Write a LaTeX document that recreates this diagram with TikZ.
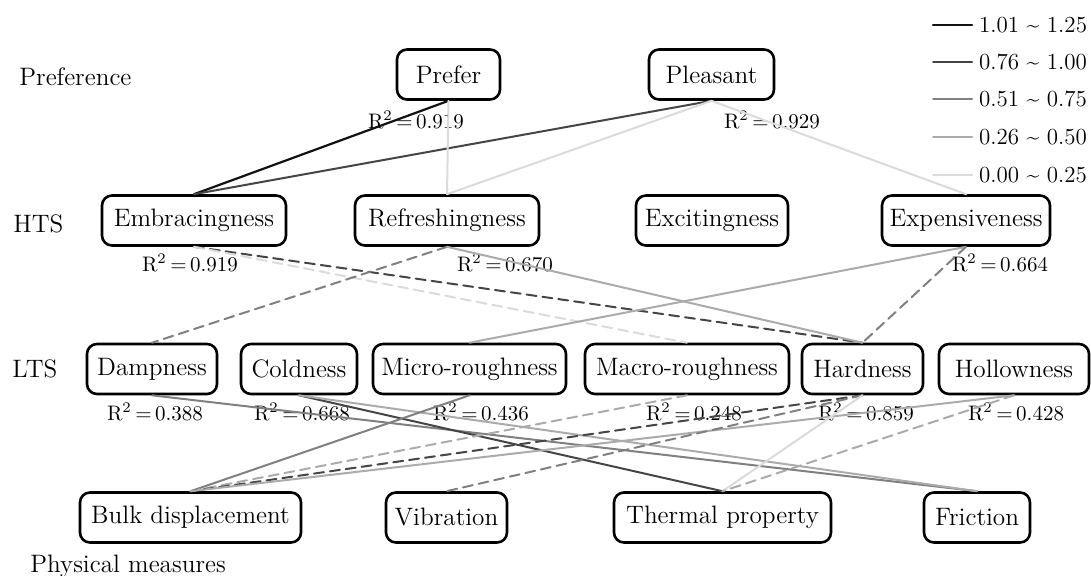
\documentclass[tikz,border=0pt]{standalone}
\usepackage{fontspec}
\begin{document}
\begin{tikzpicture}[x=0.5pt, y=-0.5pt, font=\fontsize{12.6}{15}\selectfont, line join=round, line cap=round,
	box/.style={draw, line width=1.3pt, rounded corners=5pt, minimum height=25pt, inner xsep=2pt},
	rsq/.style={font=\fontsize{10.5}{12}\selectfont, inner sep=1pt},
	w1/.style={line width=1.1pt, black!93}, w2/.style={line width=1pt, black!73},
	w3/.style={line width=1pt, black!50}, w4/.style={line width=1pt, black!33},
	w5/.style={line width=1pt, black!14}, dsh/.style={dash pattern=on 5pt off 3pt},
	d2/.style={w2, dsh}, d3/.style={w3, dsh}, d4/.style={w4, dsh}, d5/.style={w5, dsh}]
	\useasboundingbox (0,0) rectangle (1091,575);
	% levels
	\foreach \x/\y/\t [count=\i] in {19/85/Preference, 13/232/HTS, 12/377/LTS, 30/572/Physical measures}
		\node[anchor=base west, inner sep=0pt] (row\i) at (\x,\y) {\t};
	% boxes
	\foreach \n/\x/\y/\w/\t in {prefer/448.5/74.5/51.5/Prefer, pleasant/711.5/74.5/62.5/Pleasant,
		embrace/194/220.5/92/Embracingness, refresh/447/220.5/92/Refreshingness, excite/712/220.5/76/Excitingness, expens/966/220.5/84/Expensiveness,
		damp/152/369/65/Dampness, cold/299/369/58/Coldness, micro/469.5/369/96.5/Micro-roughness, macro/687/369/102/Macro-roughness, hard/862.5/369/60.5/Hardness, hollow/1014/369/75/Hollowness,
		bulk/190.5/517.5/110.5/Bulk displacement, vib/446.5/517.5/60.5/Vibration, therm/722.5/517.5/108.5/Thermal property, fric/977/517.5/53/Friction}
		\node[box, minimum width=\w pt] (\n) at (\x,\y) {\t};
	% R^2
	\foreach \n/\x/\y/\v in {prefer/416/120/0.919, pleasant/772/120/0.929, embrace/190/263/0.919, refresh/505/263/0.670, expens/1000/263/0.664,
		damp/155/412/0.388, cold/302/412/0.668, micro/481/412/0.436, macro/694/412/0.248, hard/866/412/0.859, hollow/1016/412/0.428}
		\node[rsq] (r\n) at (\x,\y) {R\textsuperscript{2}\,=\,\v};
	% paths
	\foreach \a/\b/\s in {prefer/embrace/w1, pleasant/embrace/w2, prefer/refresh/w5, pleasant/refresh/w5, pleasant/expens/w5,
		embrace/hard/d2, embrace/macro/d5, refresh/damp/d3, refresh/hard/w4, expens/micro/w4, expens/hard/d3,
		damp/fric/w3, cold/therm/w2, cold/fric/w4, micro/bulk/w3, macro/bulk/d4, hard/bulk/d2, hollow/bulk/w4,
		hard/vib/d3, hard/therm/w5, hollow/therm/d4}
		\draw[\s] (\a.south) -- (\b.north);
	% legend
	\foreach \y/\s/\t [count=\i] in {25/w1/1.01 \textasciitilde{} 1.25, 62/w2/0.76 \textasciitilde{} 1.00, 99/w3/0.51 \textasciitilde{} 0.75,
		137/w4/0.26 \textasciitilde{} 0.50, 175/w5/0.00 \textasciitilde{} 0.25}
		\draw[\s] (933,\y) -- (972,\y) node[right, black, inner sep=3pt, font=\fontsize{11.5}{13}\selectfont] (leg\i) {\t};
\end{tikzpicture}
\end{document}
